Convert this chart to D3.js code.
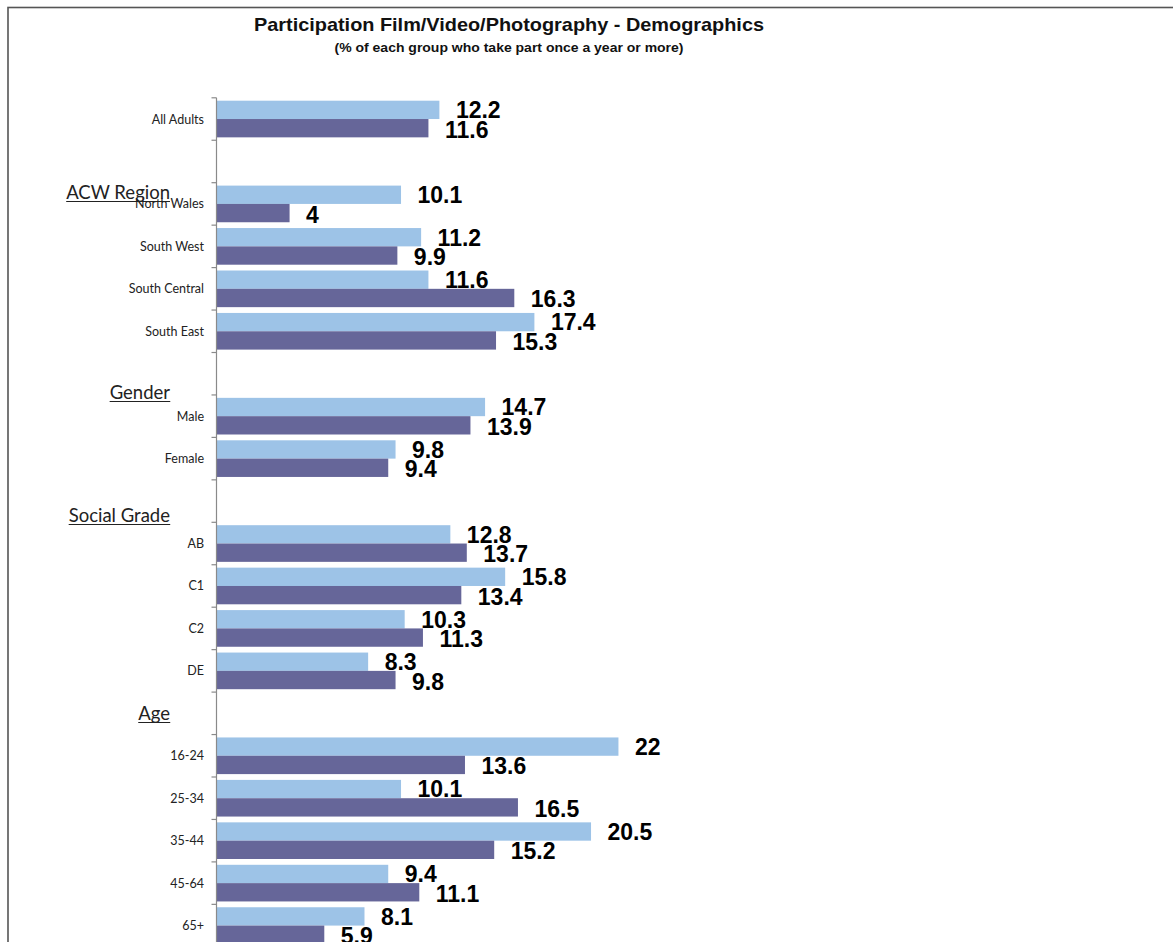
<!DOCTYPE html>
<html>
<head>
<meta charset="utf-8">
<script src="https://cdn.jsdelivr.net/npm/d3@7"></script>
<style>
  html, body { margin: 0; padding: 0; background: #fff; }
  svg { display: block; }
</style>
</head>
<body>
<svg id="chart" width="1173" height="942"></svg>
<script>
// Row labels, top to bottom; empty strings are spacer rows under the section headings
const categories = ["All Adults", "", "North Wales", "South West", "South Central", "South East", "",
  "Male", "Female", "", "AB", "C1", "C2", "DE", "", "16-24", "25-34", "35-44", "45-64", "65+"];

// Participation (%) — first series (light bars) and second series (dark bars)
const seriesA = [12.2, null, 10.1, 11.2, 11.6, 17.4, null, 14.7, 9.8, null, 12.8, 15.8, 10.3, 8.3, null, 22, 10.1, 20.5, 9.4, 8.1];
const seriesB = [11.6, null, 4, 9.9, 16.3, 15.3, null, 13.9, 9.4, null, 13.7, 13.4, 11.3, 9.8, null, 13.6, 16.5, 15.2, 11.1, 5.9];

// Section headings drawn beside the category axis
const sectionHeadings = ["ACW Region", "Gender", "Social Grade", "Age"];
const headingBaselines = [199, 399, 522, 720];

const titleText = "Participation Film/Video/Photography - Demographics";
const subtitleText = "(% of each group who take part once a year or more)";

const colors = { a: "#9dc3e7", b: "#666699" };

const svg = d3.select("#chart");

// Outer frame
svg.append("rect")
  .attr("x", 8).attr("y", 7.5)
  .attr("width", 1300).attr("height", 1200)
  .attr("fill", "none")
  .attr("stroke", "#555").attr("stroke-width", 1.6);

// Titles
svg.append("text")
  .attr("x", 509).attr("y", 31)
  .attr("text-anchor", "middle")
  .attr("font-family", "'Liberation Sans', Arial, sans-serif")
  .attr("font-weight", "bold").attr("font-size", 19)
  .attr("textLength", 510).attr("lengthAdjust", "spacingAndGlyphs")
  .attr("fill", "#111")
  .text(titleText);

svg.append("text")
  .attr("x", 509).attr("y", 52)
  .attr("text-anchor", "middle")
  .attr("font-family", "'Liberation Sans', Arial, sans-serif")
  .attr("font-weight", "bold").attr("font-size", 13)
  .attr("textLength", 349).attr("lengthAdjust", "spacingAndGlyphs")
  .attr("fill", "#111")
  .text(subtitleText);

// Scales
const idx = d3.range(categories.length);
const y = d3.scaleBand()
  .domain(idx)
  .range([97.8, 97.8 + 42.45 * categories.length])
  .paddingInner(0)
  .paddingOuter(0);

const x = d3.scaleLinear()
  .domain([0, 25])
  .range([216.5, 216.5 + 25 * 18.27]);

const pad = 2.9;
const barH = (y.bandwidth() - 2 * pad) / 2;

// Bars
const g = svg.append("g");
const rowsA = idx.filter(i => seriesA[i] != null);
const rowsB = idx.filter(i => seriesB[i] != null);

g.selectAll("rect.a").data(rowsA).join("rect")
  .attr("class", "a")
  .attr("x", x(0))
  .attr("y", i => y(i) + pad)
  .attr("width", i => x(seriesA[i]) - x(0))
  .attr("height", barH)
  .attr("fill", colors.a);

g.selectAll("rect.b").data(rowsB).join("rect")
  .attr("class", "b")
  .attr("x", x(0))
  .attr("y", i => y(i) + pad + barH)
  .attr("width", i => x(seriesB[i]) - x(0))
  .attr("height", barH)
  .attr("fill", colors.b);

// Value labels
const labelFont = "'Liberation Sans', Arial, sans-serif";
g.selectAll("text.la").data(rowsA).join("text")
  .attr("class", "la")
  .attr("x", i => x(seriesA[i]) + 16.5)
  .attr("y", i => y(i) + pad + barH / 2 + 8.3)
  .attr("font-family", labelFont).attr("font-weight", "bold").attr("font-size", 23)
  .attr("fill", "#000")
  .text(i => seriesA[i]);

g.selectAll("text.lb").data(rowsB).join("text")
  .attr("class", "lb")
  .attr("x", i => x(seriesB[i]) + 16.5)
  .attr("y", i => y(i) + pad + barH * 1.5 + 9.5)
  .attr("font-family", labelFont).attr("font-weight", "bold").attr("font-size", 23)
  .attr("fill", "#000")
  .text(i => seriesB[i]);

// Category axis: spine with ticks on the row boundaries
const axisG = svg.append("g");
axisG.append("line")
  .attr("x1", x(0)).attr("x2", x(0))
  .attr("y1", y.range()[0]).attr("y2", y.range()[1])
  .attr("stroke", "#8a8a8a").attr("stroke-width", 1.2);

const boundaries = idx.map(i => y(i)).concat([y.range()[1]]);
axisG.selectAll("line.tick").data(boundaries).join("line")
  .attr("class", "tick")
  .attr("x1", x(0) - 5).attr("x2", x(0))
  .attr("y1", d => d).attr("y2", d => d)
  .attr("stroke", "#8a8a8a").attr("stroke-width", 1.2);

axisG.selectAll("text.cat").data(idx.filter(i => categories[i] !== "")).join("text")
  .attr("class", "cat")
  .attr("x", 204)
  .attr("y", i => y(i) + y.bandwidth() / 2 + 4.5)
  .attr("text-anchor", "end")
  .attr("font-family", "Lato, 'Noto Sans', sans-serif")
  .attr("font-size", 12.5)
  .attr("fill", "#222")
  .text(i => categories[i]);

// Section headings, underlined
const headG = svg.append("g");
sectionHeadings.forEach((h, k) => {
  const t = headG.append("text")
    .attr("x", 170).attr("y", headingBaselines[k])
    .attr("text-anchor", "end")
    .attr("font-family", "Lato, 'Noto Sans', sans-serif")
    .attr("font-size", 18.5)
    .attr("fill", "#222")
    .text(h);
  const bb = t.node().getBBox();
  headG.append("line")
    .attr("x1", bb.x).attr("x2", bb.x + bb.width)
    .attr("y1", headingBaselines[k] + 2.5).attr("y2", headingBaselines[k] + 2.5)
    .attr("stroke", "#222").attr("stroke-width", 1.2);
});
</script>
</body>
</html>
